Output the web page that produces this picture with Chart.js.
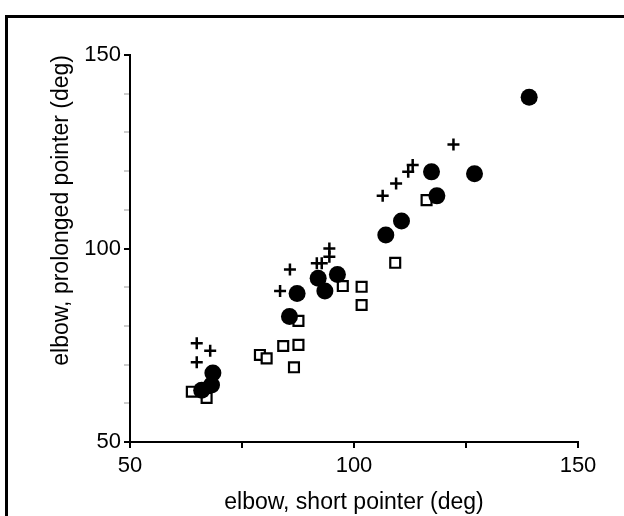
<!DOCTYPE html>
<html>
<head>
<meta charset="utf-8">
<script src="https://cdn.jsdelivr.net/npm/chart.js@4"></script>
<style>
  body { margin: 0; background: #fff; }
</style>
</head>
<body>
<canvas id="myChart" width="624" height="516"></canvas>
<script>
// x = elbow angle, short pointer; y = elbow angle, prolonged pointer (deg)
var circleX = [66, 68.2, 68.5, 85.6, 87.3, 92, 93.5, 96.3, 107.1, 110.6, 117.3, 118.5, 126.9, 139.1];
var circleY = [63.4, 64.7, 67.8, 82.4, 88.4, 92.3, 89, 93.3, 103.5, 107.1, 119.8, 113.6, 119.3, 139.1];

var plusX = [64.9, 67.9, 64.9, 83.5, 85.7, 91.7, 92.8, 94.5, 94.5, 106.4, 109.4, 112.1, 113.1, 122.2];
var plusY = [75.5, 73.6, 70.6, 89, 94.6, 96.2, 96.2, 100, 97.9, 113.6, 116.8, 119.8, 121.6, 126.9];

var squareX = [63.8, 67.1, 79, 80.5, 84.2, 87.6, 86.6, 87.6, 97.5, 101.7, 101.7, 109.2, 116.2];
var squareY = [63, 61.4, 72.5, 71.6, 74.8, 75.1, 69.3, 81.3, 90.3, 90.1, 85.4, 96.3, 112.5];

var tickLabels = [50, 100, 150];

function toPoints(xs, ys) {
	var pts = [];
	for (var i = 0; i < xs.length; i++) {
		pts.push({ x: xs[i], y: ys[i] });
	}
	return pts;
}

var frame = {
	id: "frame",
	beforeDraw: function (chart) {
		var ctx = chart.ctx;
		ctx.save();
		ctx.fillStyle = "#fff";
		ctx.fillRect(0, 0, chart.width, chart.height);
		ctx.strokeStyle = "#000";
		ctx.lineWidth = 3;
		ctx.beginPath();
		ctx.moveTo(6.5, chart.height);
		ctx.lineTo(6.5, 16.5);
		ctx.lineTo(chart.width, 16.5);
		ctx.stroke();
		ctx.restore();
	}
};

var tickFont = { family: "Liberation Sans", size: 22 };
var titleFont = { family: "Liberation Sans", size: 23 };

new Chart("myChart", {
	type: "scatter",
	data: {
		datasets: [
			{
				data: toPoints(circleX, circleY),
				pointStyle: "circle",
				pointRadius: 8.5,
				backgroundColor: "#000",
				borderColor: "#000",
				borderWidth: 0
			},
			{
				data: toPoints(plusX, plusY),
				pointStyle: "cross",
				pointRadius: 6,
				borderColor: "#000",
				borderWidth: 2.5
			},
			{
				data: toPoints(squareX, squareY),
				pointStyle: "rect",
				pointRadius: 7,
				backgroundColor: "#fff",
				borderColor: "#000",
				borderWidth: 2.2
			}
		]
	},
	options: {
		responsive: false,
		animation: false,
		devicePixelRatio: 1,
		layout: { padding: { left: 0, top: 55, right: 46, bottom: 0 } },
		plugins: {
			legend: { display: false },
			tooltip: { enabled: false }
		},
		scales: {
			x: {
				type: "linear",
				min: 50,
				max: 150,
				afterFit: function (s) { s.height = 74; },
				border: { color: "#000", width: 2 },
				grid: { drawOnChartArea: false, color: "#000", lineWidth: 2, tickLength: 6 },
				ticks: {
					stepSize: 25,
					padding: 5,
					color: "#000",
					font: tickFont,
					maxRotation: 0,
					callback: function (v) { return tickLabels.indexOf(v) >= 0 ? String(v) : ""; }
				},
				title: {
					display: true,
					text: "elbow, short pointer (deg)",
					color: "#000",
					font: titleFont,
					padding: { top: 0, bottom: 0 }
				}
			},
			y: {
				type: "linear",
				min: 50,
				max: 150,
				afterFit: function (s) { s.width = 130; },
				border: { color: "#000", width: 2 },
				grid: {
					drawOnChartArea: false,
					lineWidth: 2,
					tickLength: 6,
					color: function (c) {
						return c.tick && c.tick.value % 50 === 0 ? "#000" : "rgba(0,0,0,0.2)";
					}
				},
				ticks: {
					stepSize: 10,
					padding: 3,
					color: "#000",
					font: tickFont,
					callback: function (v) { return tickLabels.indexOf(v) >= 0 ? String(v) : ""; }
				},
				title: {
					display: true,
					text: "elbow, prolonged pointer (deg)",
					align: "end",
					color: "#000",
					font: titleFont,
					padding: { top: 48, bottom: 0 }
				}
			}
		}
	},
	plugins: [frame]
});
</script>
</body>
</html>
